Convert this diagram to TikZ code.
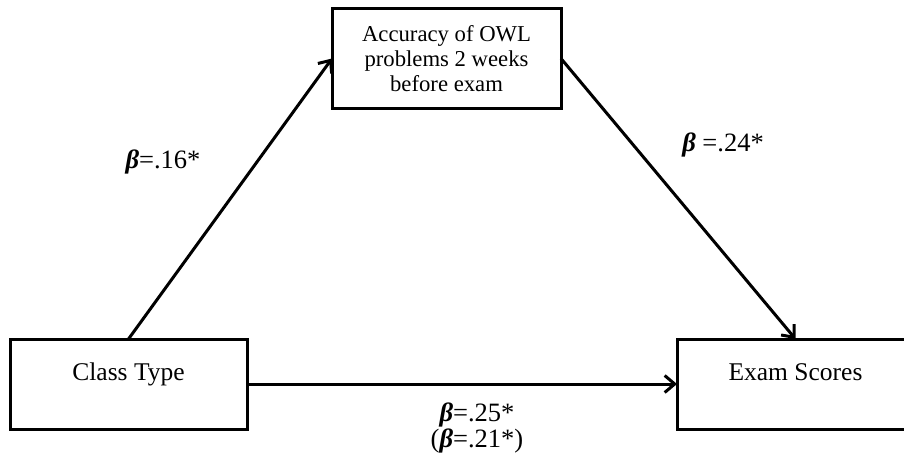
\documentclass[tikz,border=0pt]{standalone}
\usepackage{fontspec}
\setmainfont{Liberation Serif}
\usetikzlibrary{
    arrows.meta,
    positioning
}
\tikzset{
    every picture/.style = {
        > = {Straight Barb[length=10pt, width=17pt]},
        line width = 3pt
    },
    every node/.style = {
        inner sep = 1pt,
        outer sep = 0pt,
        align = center
    },
    box/.style = {
        draw,
        rectangle,
        minimum width = 237pt,
        minimum height = 90pt,
        text height = 17pt,
        text depth = 25pt,
        font = \fontsize{25.5}{28}\selectfont
    },
    midbox/.style = {
        draw,
        rectangle,
        minimum width = 229pt,
        minimum height = 99pt,
        font = \fontsize{22.7}{25}\selectfont
    },
    coef/.style = {
        font = \fontsize{26.5}{21}\selectfont
    }
}
\newcommand{\bb}{\textbf{\textit{β}}}

\begin{document}
\begin{tikzpicture}[x = 1pt, y = 1pt]
    \useasboundingbox (0,0) rectangle (904,459);
    \clip (0,0) rectangle (904,459);

    \node[box] (class) at (128.5,75) {Class Type};
    \node[box] (exam) at (795.5,75) {Exam Scores};
    \node[midbox] (owl) at (446.5,400.5) {Accuracy of OWL\\problems 2 weeks\\before exam};

    \path[->] (class.north) edge (owl.west);
    \path[->] (owl.east) edge (exam.north);
    \path[->] (class.east) edge (exam.west);

    \node[coef] (a) at (163,297) {\bb=.16*};
    \node[coef] (b) at (723,314) {\bb\ =.24*};
    \node[coef] (c) at (477,31) {\bb=.25*\\(\bb=.21*)};
\end{tikzpicture}
\end{document}
